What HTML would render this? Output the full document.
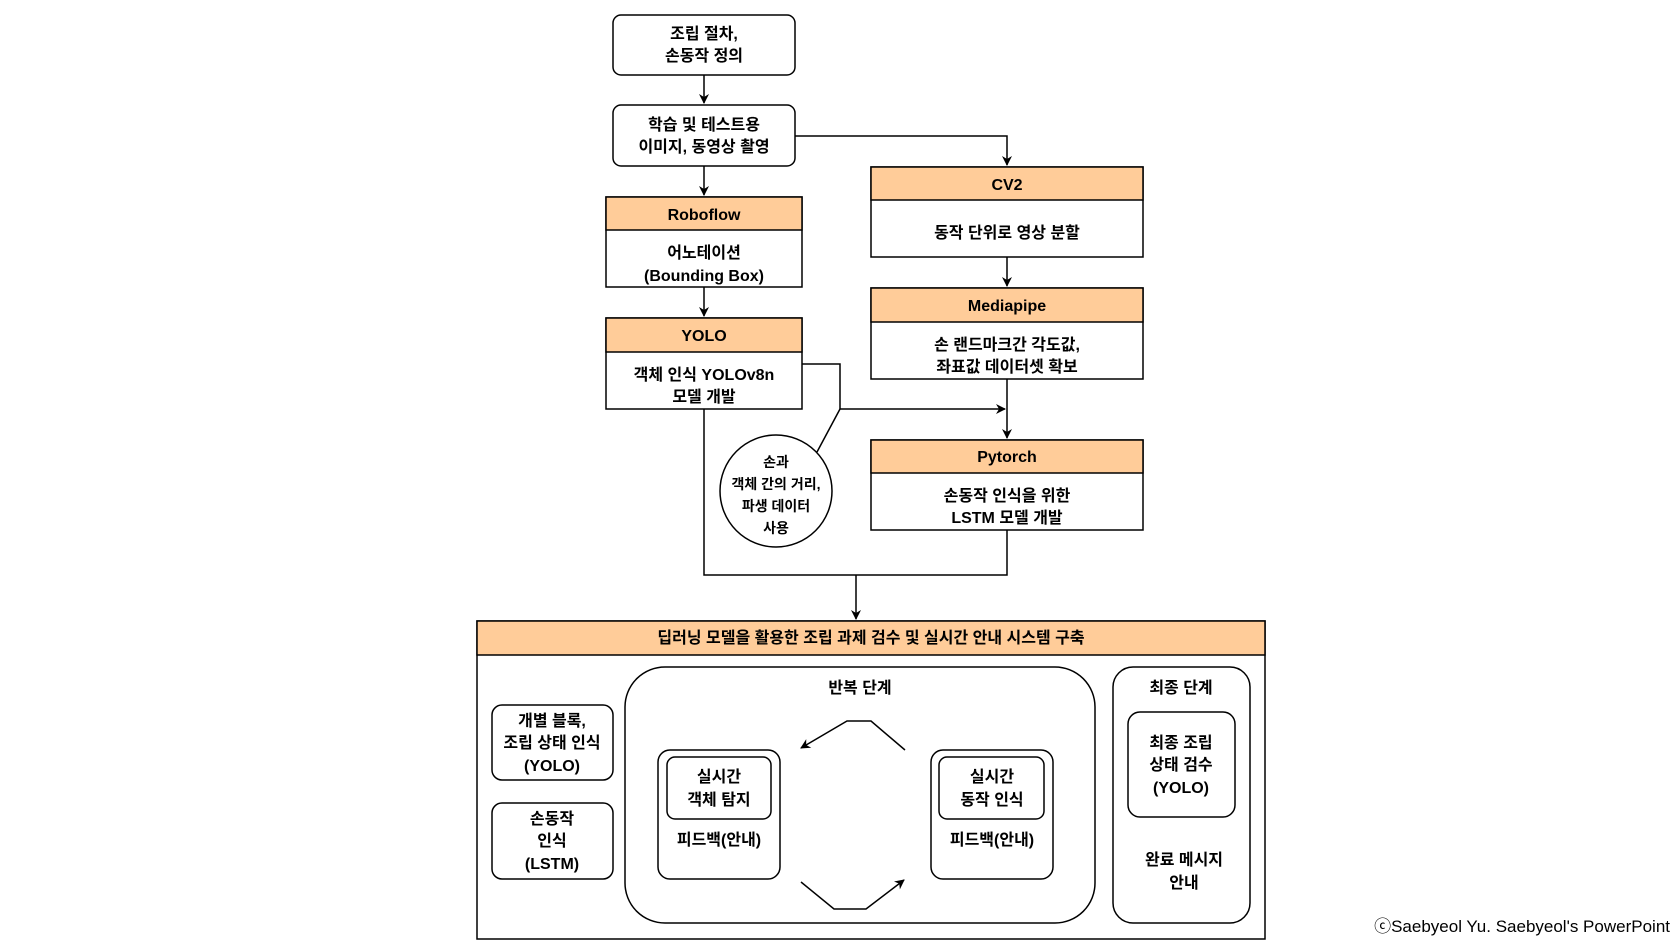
<!DOCTYPE html>
<html><head><meta charset="utf-8"><style>
body{margin:0;background:#fff}
svg text{font-family:"Liberation Sans","Noto Sans CJK KR",sans-serif;font-weight:bold;font-size:16px;fill:#000;text-anchor:middle}
</style></head><body>
<svg width="1678" height="947" viewBox="0 0 1678 947" xmlns="http://www.w3.org/2000/svg">
<defs><marker id="a" markerWidth="10" markerHeight="10" refX="9" refY="5" orient="auto" markerUnits="userSpaceOnUse"><path d="M0,0 L10,5 L0,10 L3,5 z" fill="#000"/></marker></defs>
<g fill="none" stroke="#000" stroke-width="1.5">
<rect x="613" y="15" width="182" height="60" rx="8" fill="#fff"/>
<rect x="613" y="105" width="182" height="61" rx="8" fill="#fff"/>
<rect x="606" y="197" width="196" height="90" fill="#fff"/>
<rect x="606" y="197" width="196" height="33" fill="#ffcc99"/>
<rect x="606" y="318" width="196" height="91" fill="#fff"/>
<rect x="606" y="318" width="196" height="34" fill="#ffcc99"/>
<rect x="871" y="167" width="272" height="90" fill="#fff"/>
<rect x="871" y="167" width="272" height="33" fill="#ffcc99"/>
<rect x="871" y="288" width="272" height="91" fill="#fff"/>
<rect x="871" y="288" width="272" height="34" fill="#ffcc99"/>
<rect x="871" y="440" width="272" height="90" fill="#fff"/>
<rect x="871" y="440" width="272" height="33" fill="#ffcc99"/>
<circle cx="776" cy="491" r="56" fill="#fff"/>
<path d="M704,75 V103" marker-end="url(#a)"/>
<path d="M704,166 V195" marker-end="url(#a)"/>
<path d="M704,287 V316" marker-end="url(#a)"/>
<path d="M795,136 H1007 V165" marker-end="url(#a)"/>
<path d="M1007,257 V286" marker-end="url(#a)"/>
<path d="M1007,379 V438" marker-end="url(#a)"/>
<path d="M802,364 H840 V409 H1005" marker-end="url(#a)"/>
<path d="M840,409 L817,452"/>
<path d="M704,409 V575 H1007 V530"/>
<path d="M856,575 V619" marker-end="url(#a)"/>
<rect x="477" y="621" width="788" height="318" fill="#fff"/>
<rect x="477" y="621" width="788" height="34" fill="#ffcc99"/>
<rect x="492" y="705" width="121" height="75" rx="10"/>
<rect x="492" y="803" width="121" height="76" rx="10"/>
<rect x="625" y="667" width="470" height="256" rx="40"/>
<rect x="658" y="750" width="122" height="129" rx="12"/>
<rect x="667" y="757" width="104" height="62" rx="8"/>
<rect x="931" y="750" width="122" height="129" rx="12"/>
<rect x="939" y="757" width="105" height="62" rx="8"/>
<rect x="1113" y="667" width="137" height="256" rx="20"/>
<rect x="1128" y="712" width="107" height="105" rx="12"/>
<path d="M905,750 L871,721 H847 L801,748" marker-end="url(#a)"/>
<path d="M801,882 L834,909 H866 L904,880" marker-end="url(#a)"/>
</g>
<text x="704" y="39">조립 절차,</text><text x="704" y="61">손동작 정의</text>
<text x="704" y="130">학습 및 테스트용</text><text x="704" y="152">이미지, 동영상 촬영</text>
<text x="704" y="220">Roboflow</text>
<text x="704" y="258">어노테이션</text><text x="704" y="281">(Bounding Box)</text>
<text x="704" y="341">YOLO</text>
<text x="704" y="380">객체 인식 YOLOv8n</text><text x="704" y="402">모델 개발</text>
<text x="1007" y="190">CV2</text>
<text x="1007" y="238">동작 단위로 영상 분할</text>
<text x="1007" y="311">Mediapipe</text>
<text x="1007" y="350">손 랜드마크간 각도값,</text><text x="1007" y="372">좌표값 데이터셋 확보</text>
<text x="1007" y="462">Pytorch</text>
<text x="1007" y="501">손동작 인식을 위한</text><text x="1007" y="523">LSTM 모델 개발</text>
<g style="font-size:14px"><text x="776" y="467" style="font-size:14px">손과</text><text x="776" y="489" style="font-size:14px">객체 간의 거리,</text><text x="776" y="511" style="font-size:14px">파생 데이터</text><text x="776" y="533" style="font-size:14px">사용</text></g>
<text x="871" y="643">딥러닝 모델을 활용한 조립 과제 검수 및 실시간 안내 시스템 구축</text>
<text x="860" y="693">반복 단계</text>
<text x="1181" y="693">최종 단계</text>
<text x="552" y="726">개별 블록,</text><text x="552" y="748">조립 상태 인식</text><text x="552" y="771">(YOLO)</text>
<text x="552" y="824">손동작</text><text x="552" y="846">인식</text><text x="552" y="869">(LSTM)</text>
<text x="719" y="782">실시간</text><text x="719" y="805">객체 탐지</text>
<text x="719" y="845">피드백(안내)</text>
<text x="992" y="782">실시간</text><text x="992" y="805">동작 인식</text>
<text x="992" y="845">피드백(안내)</text>
<text x="1181" y="748">최종 조립</text><text x="1181" y="770">상태 검수</text><text x="1181" y="793">(YOLO)</text>
<text x="1184" y="865">완료 메시지</text><text x="1184" y="888">안내</text>
<text x="1670" y="932" style="font-weight:normal;font-size:17px;text-anchor:end">ⓒSaebyeol Yu. Saebyeol's PowerPoint</text>
</svg>
</body></html>
